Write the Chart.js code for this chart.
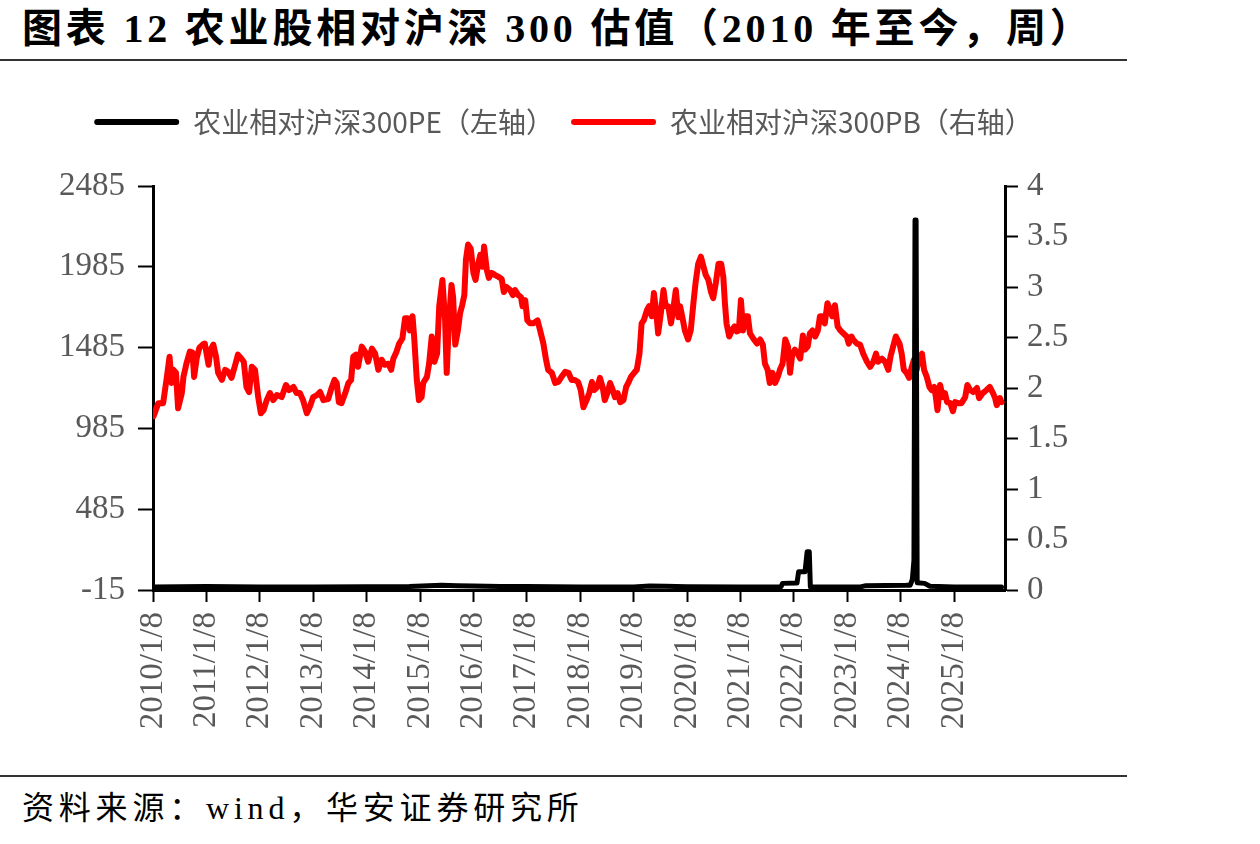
<!DOCTYPE html>
<html>
<head>
<meta charset="utf-8">
<script src="https://cdn.jsdelivr.net/npm/chart.js@4.4.1/dist/chart.umd.min.js"></script>
<style>
  html, body { margin: 0; padding: 0; background: #fff; }
  #page { position: relative; width: 1260px; height: 844px; overflow: hidden; background: #fff; }
  #title { position: absolute; left: 22px; top: 3px; font-family: 'Liberation Serif', 'Noto Sans CJK SC', serif; font-weight: 700; font-size: 40px; line-height: 52px; letter-spacing: 3.8px; color: #000; white-space: nowrap; }
  .rule { position: absolute; left: 0; width: 1127px; height: 2px; background: #333; }
  #source { position: absolute; left: 22px; top: 787px; font-family: 'Liberation Serif', 'Noto Sans CJK SC', serif; font-size: 32px; line-height: 42px; color: #000; white-space: nowrap; letter-spacing: 4.8px; }
  #wrap { position: absolute; left: 0; top: 0; width: 1127px; height: 770px; }
</style>
</head>
<body>
<div id="page">
  <div id="title">图表 12 农业股相对沪深 300 估值（2010 年至今，周）</div>
  <div class="rule" style="top:59px"></div>
  <div id="wrap"><canvas id="c" width="1127" height="770"></canvas></div>
  <div class="rule" style="top:775px"></div>
  <div id="source">资料来源：wind，华安证券研究所</div>
</div>
<script>
// ---- series labels ----
const seriesPE = '农业相对沪深300PE（左轴）';
const seriesPB = '农业相对沪深300PB（右轴）';

// ---- x axis ticks (weekly data, x in years; 2010.0 = 2010/1/8) ----
const tickYears = [2010,2011,2012,2013,2014,2015,2016,2017,2018,2019,2020,2021,2022,2023,2024,2025];
const tickLabels = ['2010/1/8','2011/1/8','2012/1/8','2013/1/8','2014/1/8','2015/1/8','2016/1/8','2017/1/8','2018/1/8','2019/1/8','2020/1/8','2021/1/8','2022/1/8','2023/1/8','2024/1/8','2025/1/8'];
const leftTicks = [-15, 485, 985, 1485, 1985, 2485];
const rightTicks = [0, 0.5, 1, 1.5, 2, 2.5, 3, 3.5, 4];

// ---- PE relative (left axis) ----
const peYears = [2010.00,2010.50,2011.00,2011.50,2012.00,2013.00,2014.00,2014.80,2015.40,2015.70,2016.00,2016.50,2017.00,2018.00,2019.00,2019.30,2019.60,2020.00,2021.00,2021.70,2021.76,2021.79,2022.06,2022.09,2022.21,2022.25,2022.29,2022.31,2022.50,2023.00,2023.25,2023.35,2024.10,2024.18,2024.22,2024.25,2024.27,2024.29,2024.31,2024.45,2024.55,2025.00,2025.50,2025.89];
const peValues = [4,5,6,5,4,4,5,6,14,12,10,7,6,4,4,9,8,5,4,3,5,26,28,98,98,222,222,4,3,3,4,12,14,15,50,170,2275,2275,30,26,8,4,4,4];

// ---- PB relative (right axis) ----
const pbYears = [2010.01,2010.10,2010.19,2010.26,2010.31,2010.35,2010.38,2010.43,2010.47,2010.54,2010.57,2010.63,2010.69,2010.74,2010.77,2010.82,2010.87,2010.93,2010.97,
2011.04,2011.08,2011.13,2011.18,2011.22,2011.29,2011.35,2011.41,2011.47,2011.54,2011.59,2011.64,2011.70,2011.75,2011.80,2011.85,2011.91,2011.97,
2012.02,2012.07,2012.13,2012.19,2012.25,2012.32,2012.41,2012.49,2012.55,2012.63,2012.69,2012.75,2012.81,2012.88,2012.94,
2013.00,2013.07,2013.13,2013.19,2013.28,2013.35,2013.40,2013.44,2013.48,2013.53,2013.60,2013.66,2013.71,2013.75,2013.80,2013.84,2013.91,2013.97,
2014.03,2014.10,2014.16,2014.22,2014.28,2014.34,2014.41,2014.46,2014.50,2014.56,2014.61,2014.67,2014.72,2014.77,2014.81,2014.86,2014.89,2014.94,2014.98,
2015.03,2015.06,2015.13,2015.17,2015.22,2015.27,2015.32,2015.36,2015.42,2015.47,2015.50,2015.54,2015.59,2015.62,2015.66,2015.71,2015.75,2015.79,2015.83,2015.86,2015.90,2015.95,
2016.00,2016.04,2016.09,2016.13,2016.17,2016.20,2016.25,2016.29,2016.34,2016.40,2016.47,2016.53,2016.57,2016.62,2016.69,2016.74,2016.78,2016.84,2016.89,2016.92,2016.97,
2017.01,2017.06,2017.12,2017.20,2017.25,2017.31,2017.36,2017.40,2017.47,2017.53,2017.59,2017.65,2017.72,2017.78,2017.84,2017.90,2017.96,
2018.01,2018.06,2018.12,2018.17,2018.22,2018.26,2018.32,2018.37,2018.42,2018.46,2018.51,2018.56,2018.61,2018.65,2018.70,2018.75,2018.81,2018.86,2018.90,2018.95,
2019.01,2019.06,2019.11,2019.15,2019.19,2019.25,2019.29,2019.34,2019.38,2019.42,2019.46,2019.51,2019.56,2019.60,2019.65,2019.70,2019.74,2019.79,2019.84,2019.87,2019.91,2019.96,
2020.02,2020.07,2020.12,2020.16,2020.21,2020.26,2020.31,2020.35,2020.40,2020.45,2020.49,2020.54,2020.59,2020.64,2020.68,2020.71,2020.74,2020.79,2020.84,2020.89,2020.93,2020.97,
2021.01,2021.05,2021.10,2021.14,2021.18,2021.24,2021.31,2021.37,2021.42,2021.46,2021.51,2021.55,2021.60,2021.65,2021.70,2021.74,2021.79,2021.84,2021.89,2021.93,2021.97,
2022.02,2022.07,2022.12,2022.17,2022.21,2022.26,2022.30,2022.35,2022.40,2022.45,2022.49,2022.53,2022.58,2022.63,2022.68,2022.72,2022.77,2022.82,2022.87,2022.93,2022.99,
2023.03,2023.08,2023.11,2023.18,2023.24,2023.30,2023.37,2023.43,2023.49,2023.54,2023.58,2023.65,2023.71,2023.77,2023.81,2023.86,2023.91,2023.98,
2024.02,2024.06,2024.11,2024.16,2024.21,2024.25,2024.30,2024.35,2024.40,2024.44,2024.49,2024.54,2024.58,2024.63,2024.66,2024.69,2024.74,2024.79,2024.83,2024.87,2024.93,2024.98,
2025.02,2025.08,2025.14,2025.21,2025.25,2025.30,2025.36,2025.43,2025.47,2025.54,2025.61,2025.67,2025.73,2025.77,2025.80,2025.86,2025.89];
const pbValues = [1.72,1.85,1.85,2.11,2.31,2.05,2.18,2.15,1.80,1.95,2.11,2.25,2.36,2.35,2.11,2.30,2.40,2.43,2.44,
2.23,2.38,2.43,2.31,2.15,2.08,2.18,2.16,2.10,2.23,2.33,2.30,2.26,2.01,1.96,2.21,2.18,1.91,
1.75,1.78,1.88,1.95,1.88,1.93,1.91,2.03,1.98,2.01,1.95,1.95,1.88,1.75,1.82,
1.91,1.93,1.96,1.88,1.89,2.01,2.08,2.05,1.86,1.85,1.95,2.05,2.08,2.31,2.33,2.21,2.41,2.36,
2.26,2.39,2.34,2.18,2.28,2.23,2.24,2.18,2.29,2.36,2.44,2.49,2.69,2.69,2.57,2.71,2.51,2.08,1.88,
1.91,2.05,2.11,2.24,2.51,2.26,2.34,2.81,3.07,2.67,2.15,2.64,3.02,2.90,2.43,2.57,2.74,2.82,2.92,3.27,3.42,3.38,
3.14,3.07,3.23,3.32,3.20,3.40,3.17,3.09,3.14,3.12,3.10,3.08,2.95,3.00,2.97,2.92,2.97,2.92,2.90,2.81,2.87,
2.67,2.64,2.64,2.67,2.57,2.44,2.28,2.18,2.15,2.05,2.06,2.11,2.16,2.15,2.08,2.08,2.06,
1.98,1.81,1.88,1.95,2.06,1.98,2.01,2.10,2.01,1.88,1.95,2.05,1.98,1.91,1.95,1.86,1.88,2.01,2.05,2.11,
2.15,2.18,2.34,2.64,2.67,2.77,2.81,2.71,2.94,2.77,2.54,2.74,2.97,2.81,2.81,2.64,2.77,2.97,2.70,2.81,2.71,2.57,
2.48,2.57,2.84,3.04,3.23,3.30,3.20,3.12,3.07,2.95,2.89,3.04,3.23,3.23,3.10,2.84,2.64,2.51,2.57,2.61,2.56,2.57,
2.87,2.57,2.71,2.71,2.54,2.49,2.44,2.48,2.43,2.24,2.18,2.05,2.15,2.05,2.11,2.18,2.24,2.48,2.41,2.15,2.33,
2.38,2.34,2.29,2.52,2.38,2.41,2.54,2.57,2.51,2.57,2.71,2.71,2.64,2.84,2.77,2.71,2.82,2.61,2.57,2.54,2.51,
2.44,2.51,2.48,2.44,2.43,2.34,2.26,2.21,2.26,2.34,2.26,2.29,2.26,2.18,2.31,2.41,2.51,2.44,
2.34,2.18,2.15,2.10,2.21,2.28,2.18,2.31,2.34,2.18,2.11,2.01,1.98,2.01,1.91,1.78,2.03,1.91,1.95,1.86,1.85,1.77,
1.86,1.85,1.85,1.91,2.03,1.98,1.96,2.00,1.90,1.95,1.98,2.01,1.95,1.90,1.83,1.90,1.86];

const pePoints = peYears.map((x, i) => ({ x: x, y: peValues[i] }));
const pbPoints = pbYears.map((x, i) => ({ x: x, y: pbValues[i] }));

const tickFont = { family: "'Liberation Serif', 'Times New Roman', serif", size: 33 };
const tickColor = '#595959';

const legendSpacer = {
  id: 'legendSpacer',
  beforeInit(chart) {
    const orig = chart.legend.fit;
    chart.legend.fit = function () { orig.call(this); this.height += 40; };
  }
};

new Chart(document.getElementById('c'), {
  type: 'line',
  data: {
    datasets: [
      { label: seriesPE, data: pePoints, yAxisID: 'y', borderColor: '#000000', backgroundColor: '#000000',
        borderWidth: 5, pointRadius: 0, tension: 0, borderJoinStyle: 'round', borderCapStyle: 'round' },
      { label: seriesPB, data: pbPoints, yAxisID: 'y1', borderColor: '#FF0000', backgroundColor: '#FF0000',
        borderWidth: 6, pointRadius: 0, tension: 0, borderJoinStyle: 'round', borderCapStyle: 'round' }
    ]
  },
  options: {
    responsive: false,
    animation: false,
    devicePixelRatio: 1,
    layout: { padding: { top: 91, left: 0, right: 0, bottom: 0 } },
    plugins: {
      tooltip: { enabled: false },
      legend: {
        display: true,
        position: 'top',
        labels: {
          boxWidth: 85, boxHeight: 6, padding: 17, color: '#595959',
          useBorderRadius: true, borderRadius: 3,
          font: { family: "'Noto Sans CJK SC', sans-serif", size: 28 },
          generateLabels(chart) {
            return Chart.defaults.plugins.legend.labels.generateLabels(chart).map(l => Object.assign(l, { lineWidth: 0 }));
          }
        }
      }
    },
    scales: {
      x: {
        type: 'linear', position: 'bottom', min: 2010, max: 2025.955,
        afterBuildTicks(s) { s.ticks = tickYears.map(v => ({ value: v })); },
        afterFit(s) { s.height = 180; },
        ticks: { autoSkip: false, maxRotation: 90, minRotation: 90, padding: 10, color: tickColor, font: tickFont,
          callback(v, i) { return tickLabels[i]; } },
        grid: { drawOnChartArea: false, drawTicks: true, tickLength: 12, tickColor: '#000', tickWidth: 2, color: '#000' },
        border: { display: true, color: '#000', width: 3 }
      },
      y: {
        type: 'linear', position: 'left', min: -15, max: 2485,
        afterBuildTicks(s) { s.ticks = leftTicks.map(v => ({ value: v })); },
        afterFit(s) { s.width = 153; },
        ticks: { padding: 13, color: tickColor, font: tickFont, callback(v) { return String(v); } },
        grid: { drawOnChartArea: false, drawTicks: true, tickLength: 15, tickColor: '#000', tickWidth: 2, color: '#000' },
        border: { display: true, color: '#000', width: 3 }
      },
      y1: {
        type: 'linear', position: 'right', min: 0, max: 4,
        afterBuildTicks(s) { s.ticks = rightTicks.map(v => ({ value: v })); },
        afterFit(s) { s.width = 122; },
        ticks: { padding: 9, color: tickColor, font: tickFont, callback(v) { return String(v); } },
        grid: { drawOnChartArea: false, drawTicks: true, tickLength: 13, tickColor: '#000', tickWidth: 2, color: '#000' },
        border: { display: true, color: '#000', width: 3 }
      }
    }
  },
  plugins: [legendSpacer]
});
</script>
</body>
</html>
